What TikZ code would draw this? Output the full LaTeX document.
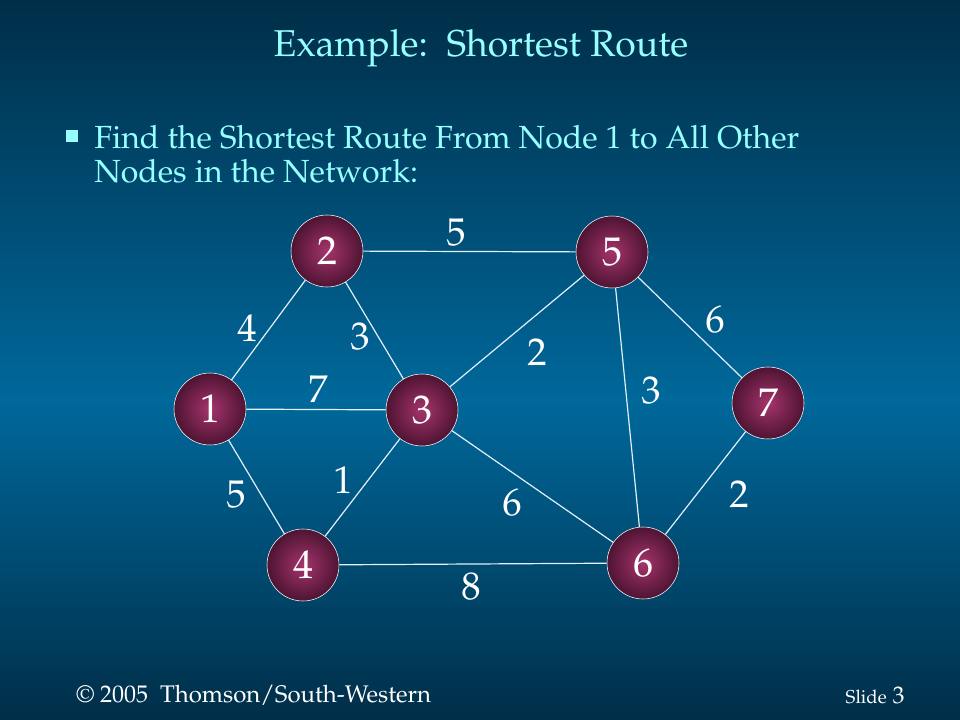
\documentclass[tikz,border=0pt]{standalone}
\usepackage[T1]{fontenc}
\usepackage{mathpazo}
\usepackage{tikz}
\usetikzlibrary{positioning}
\definecolor{bgdark}{RGB}{0,46,72}
\definecolor{bgmid}{RGB}{0,104,155}
\definecolor{titlecyan}{RGB}{150,255,255}
\definecolor{ballin}{RGB}{165,52,108}
\definecolor{ballout}{RGB}{78,20,50}
\definecolor{edgewhite}{RGB}{225,240,250}
\tikzset{vertex/.style = {circle, draw=white, thin, inner color=ballin, outer color=ballout, minimum size=54pt, inner sep=0, text=white, font=\fontsize{30}{30}\selectfont}}
\tikzset{wt/.style = {draw=none, inner sep=1, text=white, font=\fontsize{29}{29}\selectfont}}
\tikzset{link/.style = {-, draw=edgewhite, line width=0.9pt}}

\begin{document}
\begin{tikzpicture}[x=0.75pt, y=-0.75pt]
\useasboundingbox (0,0) rectangle (960,720);
\shade [top color=bgdark, bottom color=bgmid] (0,0) rectangle (960,400);
\shade [top color=bgmid, bottom color=bgdark] (0,400) rectangle (960,720);
%\node at (480,48) {title};
\node [text=titlecyan, font=\fontsize{28}{28}\selectfont] (title) at (481, 48) {Example:\ \ Shortest Route};
\node [fill=titlecyan, inner sep=0, minimum size=9.5pt] (dot) at (72, 136) {};
\node [anchor=base west, align=left, inner sep=0, text=titlecyan, font=\fontsize{24}{25.5}\selectfont] (task) at (94, 183) {Find the Shortest Route From Node 1 to All Other\\Nodes in the Network:};
\node [vertex] (n1) at (210, 409) {1};
\node [vertex] (n2) at (327, 251) {2};
\node [vertex] (n3) at (422, 410) {3};
\node [vertex] (n4) at (303, 565) {4};
\node [vertex] (n5) at (612, 252) {5};
\node [vertex] (n6) at (643, 563) {6};
\node [vertex] (n7) at (768, 403) {7};
\draw [link] (n1) to (n2);
\draw [link] (n1) to (n3);
\draw [link] (n1) to (n4);
\draw [link] (n2) to (n3);
\draw [link] (n2) to (n5);
\draw [link] (n3) to (n4);
\draw [link] (n3) to (n5);
\draw [link] (n3) to (n6);
\draw [link] (n4) to (n6);
\draw [link] (n5) to (n6);
\draw [link] (n5) to (n7);
\draw [link] (n6) to (n7);
\node [wt] (w25) at (456, 233) {5};
\node [wt] (w12) at (247, 328) {4};
\node [wt] (w23) at (360, 337) {3};
\node [wt] (w35) at (537, 352) {2};
\node [wt] (w57) at (715, 320) {6};
\node [wt] (w13) at (318, 389) {7};
\node [wt] (w56) at (651, 391) {3};
\node [wt] (w34) at (343, 480) {1};
\node [wt] (w14) at (236, 495) {5};
\node [wt] (w36) at (512, 503) {6};
\node [wt] (w67) at (739, 494) {2};
\node [wt] (w46) at (471, 587) {8};
\node [anchor=base west, inner sep=0, text=white, font=\fontsize{18}{18}\selectfont] (copy) at (76, 702) {\textcopyright{} 2005\ \ Thomson/South-Western};
\node [anchor=base east, inner sep=0, text=white, font=\fontsize{18}{18}\selectfont] (slide) at (905, 703) {{\fontsize{14}{14}\selectfont Slide} 3};
\end{tikzpicture}
\end{document}
